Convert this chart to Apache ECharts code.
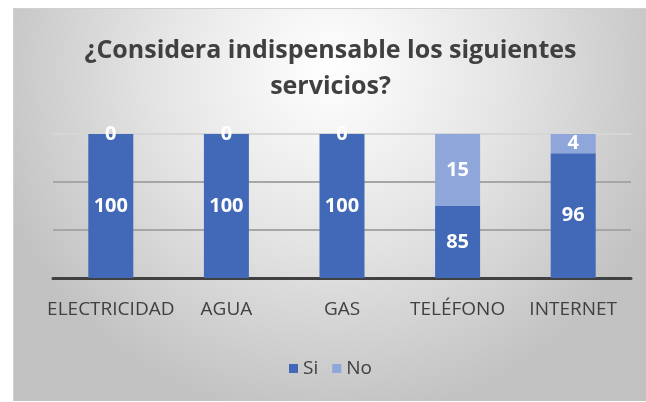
<!DOCTYPE html>
<html>
<head>
<meta charset="utf-8">
<script src="https://cdn.jsdelivr.net/npm/echarts@6/dist/echarts.min.js"></script>
<style>
  body { margin: 0; background: #fff; }
  #chart {
    position: absolute;
    left: 13px;
    top: 8px;
    width: 633px;
    height: 392px;
    border-top: 1px solid #d0d0d0;
    border-left: 1px solid #d0d0d0;
  }
</style>
</head>
<body>
<div id="chart"></div>
<script>
// categorias y valores (%)
const categorias = ['ELECTRICIDAD', 'AGUA', 'GAS', 'TELÉFONO', 'INTERNET'];
const valoresSi = [100, 100, 100, 85, 96];
const valoresNo = [0, 0, 0, 15, 4];

const chart = echarts.init(document.getElementById('chart'));

const etiqueta = {
  show: true,
  position: 'inside',
  color: '#fff',
  fontWeight: 'bold',
  fontSize: 20,
  fontFamily: 'Open Sans'
};

chart.setOption({
  backgroundColor: new echarts.graphic.RadialGradient(0.5, 0.15, 0.9, [
    { offset: 0, color: '#ffffff' },
    { offset: 0.5, color: '#e4e4e4' },
    { offset: 1, color: '#c2c2c2' }
  ]),
  title: {
    text: '¿Considera indispensable los siguientes\nservicios?',
    left: 'center',
    top: 19,
    textStyle: {
      fontFamily: 'Open Sans',
      fontWeight: 'bold',
      fontSize: 25,
      lineHeight: 36,
      color: '#404040'
    }
  },
  legend: {
    bottom: 18,
    left: 'center',
    icon: 'rect',
    itemWidth: 9,
    itemHeight: 9,
    itemGap: 14,
    textStyle: { fontFamily: 'Open Sans', fontSize: 19, color: '#404040' },
    data: ['Si', 'No']
  },
  grid: { left: 39, right: 16, top: 125, bottom: 123 },
  xAxis: {
    type: 'category',
    data: categorias,
    axisTick: { show: false },
    axisLine: { lineStyle: { color: '#404040', width: 3 } },
    axisLabel: {
      margin: 22,
      fontFamily: 'Open Sans',
      fontSize: 19,
      color: '#404040',
      interval: 0
    }
  },
  yAxis: {
    type: 'value',
    min: 70,
    max: 100,
    interval: 10,
    axisLabel: { show: false },
    axisLine: { show: false },
    axisTick: { show: false },
    splitLine: { lineStyle: { color: ['#a6a6a6', '#a6a6a6', '#a6a6a6', '#d6d6d6'], width: 2 } }
  },
  series: [
    {
      name: 'Si',
      type: 'bar',
      stack: 'total',
      barWidth: 45,
      data: valoresSi,
      itemStyle: { color: '#4169b7' },
      label: etiqueta
    },
    {
      name: 'No',
      type: 'bar',
      stack: 'total',
      barWidth: 45,
      data: valoresNo,
      itemStyle: { color: '#8ea6da' },
      label: etiqueta
    }
  ]
});
</script>
</body>
</html>
